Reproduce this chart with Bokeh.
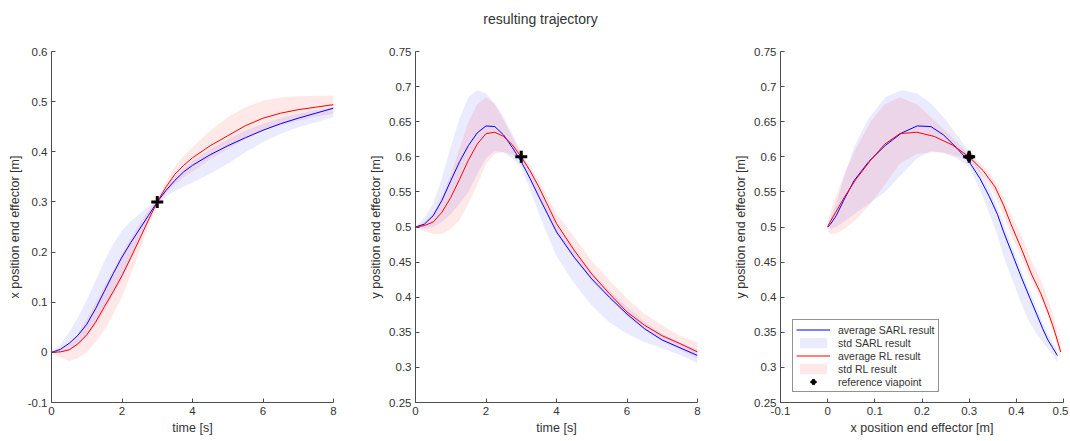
from bokeh.plotting import figure
from bokeh.layouts import column, row
from bokeh.models import FixedTicker, Legend, LegendItem, Range1d
from bokeh.core.properties import value
from bokeh.embed import file_html
from bokeh.resources import INLINE

# ---------------- data ----------------
time_s = [0, 0.25, 0.5, 0.75, 1, 1.25, 1.5, 1.75, 2, 2.25, 2.5, 2.75, 3, 3.25, 3.5, 3.75,
          4, 4.5, 5, 5.5, 6, 6.5, 7, 7.5, 8]

# x position of end effector vs time
sarl_x_mean = [0, 0.006, 0.018, 0.034, 0.056, 0.087, 0.122, 0.157, 0.190, 0.219, 0.246, 0.273, 0.300, 0.323, 0.343, 0.360,
               0.373, 0.394, 0.412, 0.428, 0.443, 0.456, 0.467, 0.477, 0.487]
sarl_x_lo   = [0, 0.000, 0.003, 0.013, 0.030, 0.054, 0.082, 0.113, 0.145, 0.185, 0.225, 0.265, 0.296, 0.311, 0.322, 0.331,
               0.338, 0.356, 0.376, 0.399, 0.419, 0.436, 0.449, 0.459, 0.469]
sarl_x_hi   = [0, 0.015, 0.040, 0.070, 0.105, 0.143, 0.182, 0.216, 0.243, 0.262, 0.277, 0.291, 0.304, 0.330, 0.350, 0.367,
               0.382, 0.405, 0.425, 0.442, 0.456, 0.467, 0.476, 0.483, 0.489]
rl_x_mean   = [0, 0.001, 0.005, 0.017, 0.035, 0.060, 0.091, 0.121, 0.153, 0.189, 0.226, 0.264, 0.300, 0.330, 0.355, 0.373,
               0.388, 0.412, 0.432, 0.452, 0.467, 0.477, 0.484, 0.489, 0.494]
rl_x_lo     = [0, -0.010, -0.017, -0.012, 0.000, 0.020, 0.045, 0.076, 0.111, 0.155, 0.204, 0.252, 0.293, 0.318, 0.335, 0.349,
               0.360, 0.385, 0.405, 0.425, 0.442, 0.453, 0.462, 0.470, 0.476]
rl_x_hi     = [0, 0.005, 0.016, 0.037, 0.067, 0.099, 0.133, 0.165, 0.197, 0.228, 0.257, 0.283, 0.305, 0.340, 0.370, 0.392,
               0.409, 0.442, 0.469, 0.489, 0.502, 0.509, 0.511, 0.512, 0.512]

# y position of end effector vs time
sarl_y_mean = [0.5, 0.504, 0.516, 0.538, 0.566, 0.593, 0.616, 0.634, 0.644, 0.643, 0.631, 0.613, 0.593, 0.569, 0.543, 0.518,
               0.493, 0.457, 0.426, 0.400, 0.376, 0.355, 0.339, 0.328, 0.317]
sarl_y_lo   = [0.5, 0.497, 0.500, 0.507, 0.518, 0.533, 0.550, 0.575, 0.598, 0.608, 0.606, 0.598, 0.585, 0.553, 0.519, 0.488,
               0.458, 0.420, 0.388, 0.364, 0.348, 0.336, 0.327, 0.318, 0.306]
sarl_y_hi   = [0.5, 0.513, 0.533, 0.570, 0.614, 0.655, 0.685, 0.695, 0.690, 0.676, 0.656, 0.632, 0.607, 0.581, 0.555, 0.529,
               0.505, 0.467, 0.436, 0.410, 0.386, 0.365, 0.348, 0.336, 0.325]
rl_y_mean   = [0.5, 0.502, 0.507, 0.521, 0.542, 0.568, 0.595, 0.618, 0.633, 0.635, 0.629, 0.617, 0.600, 0.580, 0.557, 0.531,
               0.505, 0.467, 0.433, 0.405, 0.379, 0.360, 0.345, 0.334, 0.322]
rl_y_lo     = [0.5, 0.494, 0.490, 0.490, 0.497, 0.510, 0.533, 0.560, 0.590, 0.604, 0.607, 0.603, 0.595, 0.571, 0.545, 0.517,
               0.490, 0.455, 0.423, 0.398, 0.373, 0.353, 0.337, 0.325, 0.312]
rl_y_hi     = [0.5, 0.507, 0.520, 0.543, 0.575, 0.612, 0.650, 0.675, 0.685, 0.675, 0.652, 0.628, 0.604, 0.587, 0.566, 0.543,
               0.519, 0.486, 0.452, 0.424, 0.398, 0.376, 0.360, 0.345, 0.336]

# reference via point
via_t = [3]
via_x = [0.3]
via_y = [0.6]

# axes ticks
t_ticks = [0, 2, 4, 6, 8]
t_tick_labels = ["0", "2", "4", "6", "8"]
x_ticks = [-0.1, 0, 0.1, 0.2, 0.3, 0.4, 0.5, 0.6]
x_tick_labels = ["-0.1", "0", "0.1", "0.2", "0.3", "0.4", "0.5", "0.6"]
y_ticks = [0.25, 0.3, 0.35, 0.4, 0.45, 0.5, 0.55, 0.6, 0.65, 0.7, 0.75]
y_tick_labels = ["0.25", "0.3", "0.35", "0.4", "0.45", "0.5", "0.55", "0.6", "0.65", "0.7", "0.75"]
x3_ticks = [-0.1, 0, 0.1, 0.2, 0.3, 0.4, 0.5]
x3_tick_labels = ["-0.1", "0", "0.1", "0.2", "0.3", "0.4", "0.5"]

# ---------------- styling ----------------
FONT = "Liberation Sans"
TXT = "#333333"
AXC = "#4d4d4d"
BLUE = "#0000ff"
RED = "#ff0000"
BAND_A_BLUE = 0.08
BAND_A_RED = 0.09

FIG_H = 404
BORDER_T = 15
BORDER_B = 38


def style_axes(p, xt, xl, yt, yl, xlabel, ylabel):
    p.xaxis.ticker = FixedTicker(ticks=xt)
    p.yaxis.ticker = FixedTicker(ticks=yt)
    p.xaxis.major_label_overrides = dict(zip(xt, xl))
    p.yaxis.major_label_overrides = dict(zip(yt, yl))
    p.xaxis.axis_label = xlabel
    p.yaxis.axis_label = ylabel
    for ax in (p.xaxis[0], p.yaxis[0]):
        ax.major_tick_in = 4
        ax.major_tick_out = 0
        ax.minor_tick_line_color = None
        ax.axis_line_color = AXC
        ax.major_tick_line_color = AXC
        ax.major_label_text_color = TXT
        ax.axis_label_text_color = TXT
        ax.major_label_text_font = FONT
        ax.axis_label_text_font = FONT
        ax.major_label_text_font_size = "11.5px"
        ax.axis_label_text_font_size = "12.5px"
        ax.axis_label_text_font_style = "normal"
        ax.major_label_standoff = 4
        ax.axis_label_standoff = 3
    p.grid.visible = False
    p.outline_line_color = None


def make_fig(width, bl, br, xr, yr):
    p = figure(width=width, height=FIG_H, x_range=Range1d(*xr), y_range=Range1d(*yr),
               toolbar_location=None, output_backend="svg",
               min_border_left=bl, min_border_right=br,
               min_border_top=BORDER_T, min_border_bottom=BORDER_B)
    p.background_fill_color = "white"
    p.border_fill_color = "white"
    return p


def band(xs_fwd, ys_fwd, xs_back, ys_back):
    return list(xs_fwd) + list(xs_back)[::-1], list(ys_fwd) + list(ys_back)[::-1]


# ---------- subplot 1: x vs time ----------
p1 = make_fig(360, 51, 27, (0, 8), (-0.1, 0.6))
bx, by = band(time_s, sarl_x_hi, time_s, sarl_x_lo)
p1.patch(bx, by, fill_color=BLUE, fill_alpha=BAND_A_BLUE, line_color=None)
bx, by = band(time_s, rl_x_hi, time_s, rl_x_lo)
p1.patch(bx, by, fill_color=RED, fill_alpha=BAND_A_RED, line_color=None)
p1.line(time_s, sarl_x_mean, line_color=BLUE, line_width=1)
p1.line(time_s, rl_x_mean, line_color=RED, line_width=1)
p1.scatter(via_t, via_x, marker="cross", size=12, line_width=3, line_color="black")
style_axes(p1, t_ticks, t_tick_labels, x_ticks, x_tick_labels,
           "time [s]", "x position end effector [m]")

# ---------- subplot 2: y vs time ----------
p2 = make_fig(360, 55, 23, (0, 8), (0.25, 0.75))
bx, by = band(time_s, sarl_y_hi, time_s, sarl_y_lo)
p2.patch(bx, by, fill_color=BLUE, fill_alpha=BAND_A_BLUE, line_color=None)
bx, by = band(time_s, rl_y_hi, time_s, rl_y_lo)
p2.patch(bx, by, fill_color=RED, fill_alpha=BAND_A_RED, line_color=None)
p2.line(time_s, sarl_y_mean, line_color=BLUE, line_width=1)
p2.line(time_s, rl_y_mean, line_color=RED, line_width=1)
p2.scatter(via_t, via_y, marker="cross", size=12, line_width=3, line_color="black")
style_axes(p2, t_ticks, t_tick_labels, y_ticks, y_tick_labels,
           "time [s]", "y position end effector [m]")

# ---------- subplot 3: y vs x ----------
p3 = make_fig(348, 60, 5, (-0.1, 0.5), (0.25, 0.75))
bx, by = band(sarl_x_mean, sarl_y_hi, sarl_x_mean, sarl_y_lo)
b_sarl = p3.patch(bx, by, fill_color=BLUE, fill_alpha=BAND_A_BLUE, line_color=None)
bx, by = band(rl_x_mean, rl_y_hi, rl_x_mean, rl_y_lo)
b_rl = p3.patch(bx, by, fill_color=RED, fill_alpha=BAND_A_RED, line_color=None)
l_sarl = p3.line(sarl_x_mean, sarl_y_mean, line_color=BLUE, line_width=1)
l_rl = p3.line(rl_x_mean, rl_y_mean, line_color=RED, line_width=1)
# filled plus underneath the bold cross: gives a readable "+" in the legend
m_leg = p3.scatter(via_x, via_y, marker="plus", size=8, fill_color="black", line_color="black")
p3.scatter(via_x, via_y, marker="cross", size=12, line_width=3, line_color="black")
style_axes(p3, x3_ticks, x3_tick_labels, y_ticks, y_tick_labels,
           "x position end effector [m]", "y position end effector [m]")

legend = Legend(items=[
    LegendItem(label="average SARL result", renderers=[l_sarl]),
    LegendItem(label="std SARL result", renderers=[b_sarl]),
    LegendItem(label="average RL result", renderers=[l_rl]),
    LegendItem(label="std RL result", renderers=[b_rl]),
    LegendItem(label="reference viapoint", renderers=[m_leg]),
], location=(12, 10))
legend.label_text_font = FONT
legend.label_text_font_size = "10.5px"
legend.label_text_color = TXT
legend.label_height = 13
legend.glyph_height = 13
legend.glyph_width = 34
legend.label_standoff = 8
legend.spacing = 0
legend.padding = 3
legend.margin = 0
legend.border_line_color = "#262626"
legend.border_line_width = 1
legend.background_fill_color = "white"
legend.background_fill_alpha = 1
p3.add_layout(legend)

# ---------- title ----------
header = figure(width=1068, height=36, x_range=Range1d(0, 1), y_range=Range1d(0, 1),
                toolbar_location=None, output_backend="svg", min_border=0)
header.axis.visible = False
header.grid.visible = False
header.outline_line_color = None
header.text(x=[0.5056], y=[0.5], text=["resulting trajectory"], text_align="center",
            text_baseline="middle", text_font=value(FONT), text_font_size="14px",
            text_color=TXT)

layout = column(header, row(p1, p2, p3))

with open("out.html", "w") as f:
    f.write(file_html(layout, INLINE))
